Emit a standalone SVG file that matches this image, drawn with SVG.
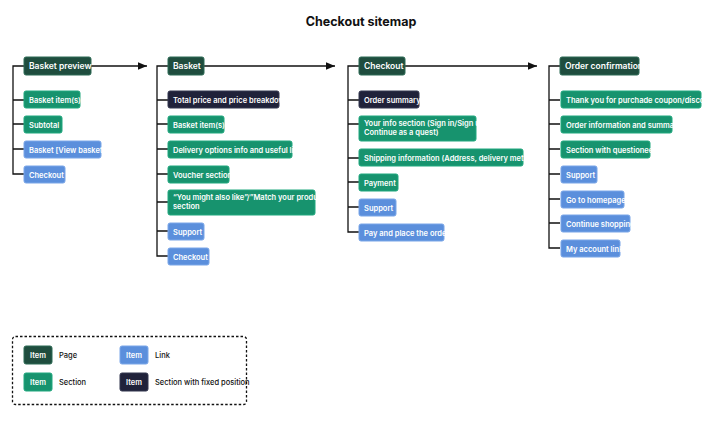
<svg xmlns="http://www.w3.org/2000/svg" width="723" height="441" viewBox="0 0 723 441">
<style>
text{font-family:Inter,"Liberation Sans",sans-serif;font-weight:600;font-size:7.5px;fill:#fff}
.pg{fill:#1f4d3e;stroke:#2c6a55;stroke-width:1}
.sc{fill:#17936e;stroke:#20a87e;stroke-width:1}
.lk{fill:#5b8fdc;stroke:#7aa6e8;stroke-width:1}
.fx{fill:#20223a;stroke:#33364f;stroke-width:1}
.ln{stroke:#111;stroke-width:1.3;fill:none}
.pt{font-size:8.5px}
.lg{fill:#111;font-weight:500}
</style>
<defs><marker id="ar" markerWidth="8" markerHeight="8" refX="7" refY="4" orient="auto"><path d="M0,1 L7,4 L0,7Z" fill="#111"/></marker></defs>
<rect width="723" height="441" fill="#fff"/>
<text x="361" y="26" text-anchor="middle" style="fill:#111;font-size:12.5px;font-weight:700">Checkout sitemap</text>
<g id="connectors">
<path class="ln" d="M24,66 H13 V174 H24 M13,100 H24 M13,124 H24 M13,149 H24"/>
<path class="ln" d="M91,66 H147" marker-end="url(#ar)"/>
<path class="ln" d="M168,66 H157 V256 H168 M157,100 H168 M157,124 H168 M157,149 H168 M157,174 H168 M157,202 H168 M157,231 H168"/>
<path class="ln" d="M204,66 H335" marker-end="url(#ar)"/>
<path class="ln" d="M359,66 H348 V232 H359 M348,100 H359 M348,124 H359 M348,158 H359 M348,182 H359 M348,207 H359"/>
<path class="ln" d="M405,66 H537" marker-end="url(#ar)"/>
<path class="ln" d="M560,66 H549 V248 H560 M549,100 H560 M549,124 H560 M549,149 H560 M549,174 H560 M549,199 H560 M549,223 H560"/>
</g>
<g id="basket-preview"><rect class="pg" x="24" y="57" width="67" height="18" rx="2"/><text class="pt" x="29" y="69">Basket preview</text></g>
<g id="bp1"><rect class="sc" x="24" y="91" width="56" height="17" rx="2"/><text x="29" y="102.5">Basket item(s)</text></g>
<g id="bp2"><rect class="sc" x="24" y="116" width="38" height="17" rx="2"/><text x="29" y="127.5">Subtotal</text></g>
<g id="bp3"><rect class="lk" x="24" y="141" width="77" height="17" rx="2"/><text x="29" y="152.5">Basket [View basket]</text></g>
<g id="bp4"><rect class="lk" x="24" y="166" width="41" height="17" rx="2"/><text x="29" y="177.5">Checkout</text></g>

<g id="basket"><rect class="pg" x="168" y="57" width="36" height="18" rx="2"/><text class="pt" x="173" y="69">Basket</text></g>
<g id="b1"><rect class="fx" x="168" y="91" width="111" height="17" rx="2"/><text x="173" y="102.5">Total price and price breakdown</text></g>
<g id="b2"><rect class="sc" x="168" y="116" width="56" height="17" rx="2"/><text x="173" y="127.5">Basket item(s)</text></g>
<g id="b3"><rect class="sc" x="168" y="141" width="124" height="17" rx="2"/><text x="173" y="152.5">Delivery options info and useful links</text></g>
<g id="b4"><rect class="sc" x="168" y="166" width="61" height="17" rx="2"/><text x="173" y="177.5">Voucher section</text></g>
<g id="b5"><rect class="sc" x="168" y="190" width="147" height="25" rx="2"/><text x="173" y="200">“You might also like”/”Match your product”</text><text x="173" y="209">section</text></g>
<g id="b6"><rect class="lk" x="168" y="223" width="36" height="17" rx="2"/><text x="173" y="234.5">Support</text></g>
<g id="b7"><rect class="lk" x="168" y="248" width="41" height="17" rx="2"/><text x="173" y="259.5">Checkout</text></g>

<g id="checkout"><rect class="pg" x="359" y="57" width="46" height="18" rx="2"/><text class="pt" x="364" y="69">Checkout</text></g>
<g id="c1"><rect class="fx" x="359" y="91" width="60" height="17" rx="2"/><text x="364" y="102.5">Order summary</text></g>
<g id="c2"><rect class="sc" x="359" y="116" width="117" height="25" rx="2"/><text x="364" y="126">Your info section (Sign in/Sign up/</text><text x="364" y="135">Continue as a quest)</text></g>
<g id="c3"><rect class="sc" x="359" y="149" width="164" height="17" rx="2"/><text x="364" y="160.5">Shipping information (Address, delivery method)</text></g>
<g id="c4"><rect class="sc" x="359" y="174" width="39" height="17" rx="2"/><text x="364" y="185.5">Payment</text></g>
<g id="c5"><rect class="lk" x="359" y="199" width="37" height="17" rx="2"/><text x="364" y="210.5">Support</text></g>
<g id="c6"><rect class="lk" x="359" y="224" width="85" height="17" rx="2"/><text x="364" y="235.5">Pay and place the order</text></g>

<g id="order-confirmation"><rect class="pg" x="560" y="57" width="79" height="18" rx="2"/><text class="pt" x="565" y="69">Order confirmation</text></g>
<g id="o1"><rect class="sc" x="561" y="91" width="140" height="17" rx="2"/><text x="566" y="102.5">Thank you for purchade coupon/discount</text></g>
<g id="o2"><rect class="sc" x="561" y="116" width="111" height="17" rx="2"/><text x="566" y="127.5">Order information and summary</text></g>
<g id="o3"><rect class="sc" x="561" y="141" width="89" height="17" rx="2"/><text x="566" y="152.5">Section with questioneer</text></g>
<g id="o4"><rect class="lk" x="561" y="166" width="36" height="17" rx="2"/><text x="566" y="177.5">Support</text></g>
<g id="o5"><rect class="lk" x="561" y="191" width="63" height="17" rx="2"/><text x="566" y="202.5">Go to homepage</text></g>
<g id="o6"><rect class="lk" x="561" y="215" width="69" height="17" rx="2"/><text x="566" y="226.5">Continue shopping</text></g>
<g id="o7"><rect class="lk" x="561" y="240" width="59" height="17" rx="2"/><text x="566" y="251.5">My account link</text></g>

<g id="legend">
<rect x="12.5" y="336.5" width="234" height="68" rx="3" fill="none" stroke="#111" stroke-width="1.3" stroke-dasharray="2.5,2"/>
<rect class="pg" x="24" y="346" width="28" height="18" rx="2"/><text x="38" y="358" text-anchor="middle">Item</text><text class="lg" x="59" y="358">Page</text>
<rect class="sc" x="24" y="373" width="28" height="18" rx="2"/><text x="38" y="385" text-anchor="middle">Item</text><text class="lg" x="59" y="385">Section</text>
<rect class="lk" x="120" y="346" width="28" height="18" rx="2"/><text x="134" y="358" text-anchor="middle">Item</text><text class="lg" x="155" y="358">Link</text>
<rect class="fx" x="120" y="373" width="28" height="18" rx="2"/><text x="134" y="385" text-anchor="middle">Item</text><text class="lg" x="155" y="385">Section with fixed position</text>
</g>
</svg>
